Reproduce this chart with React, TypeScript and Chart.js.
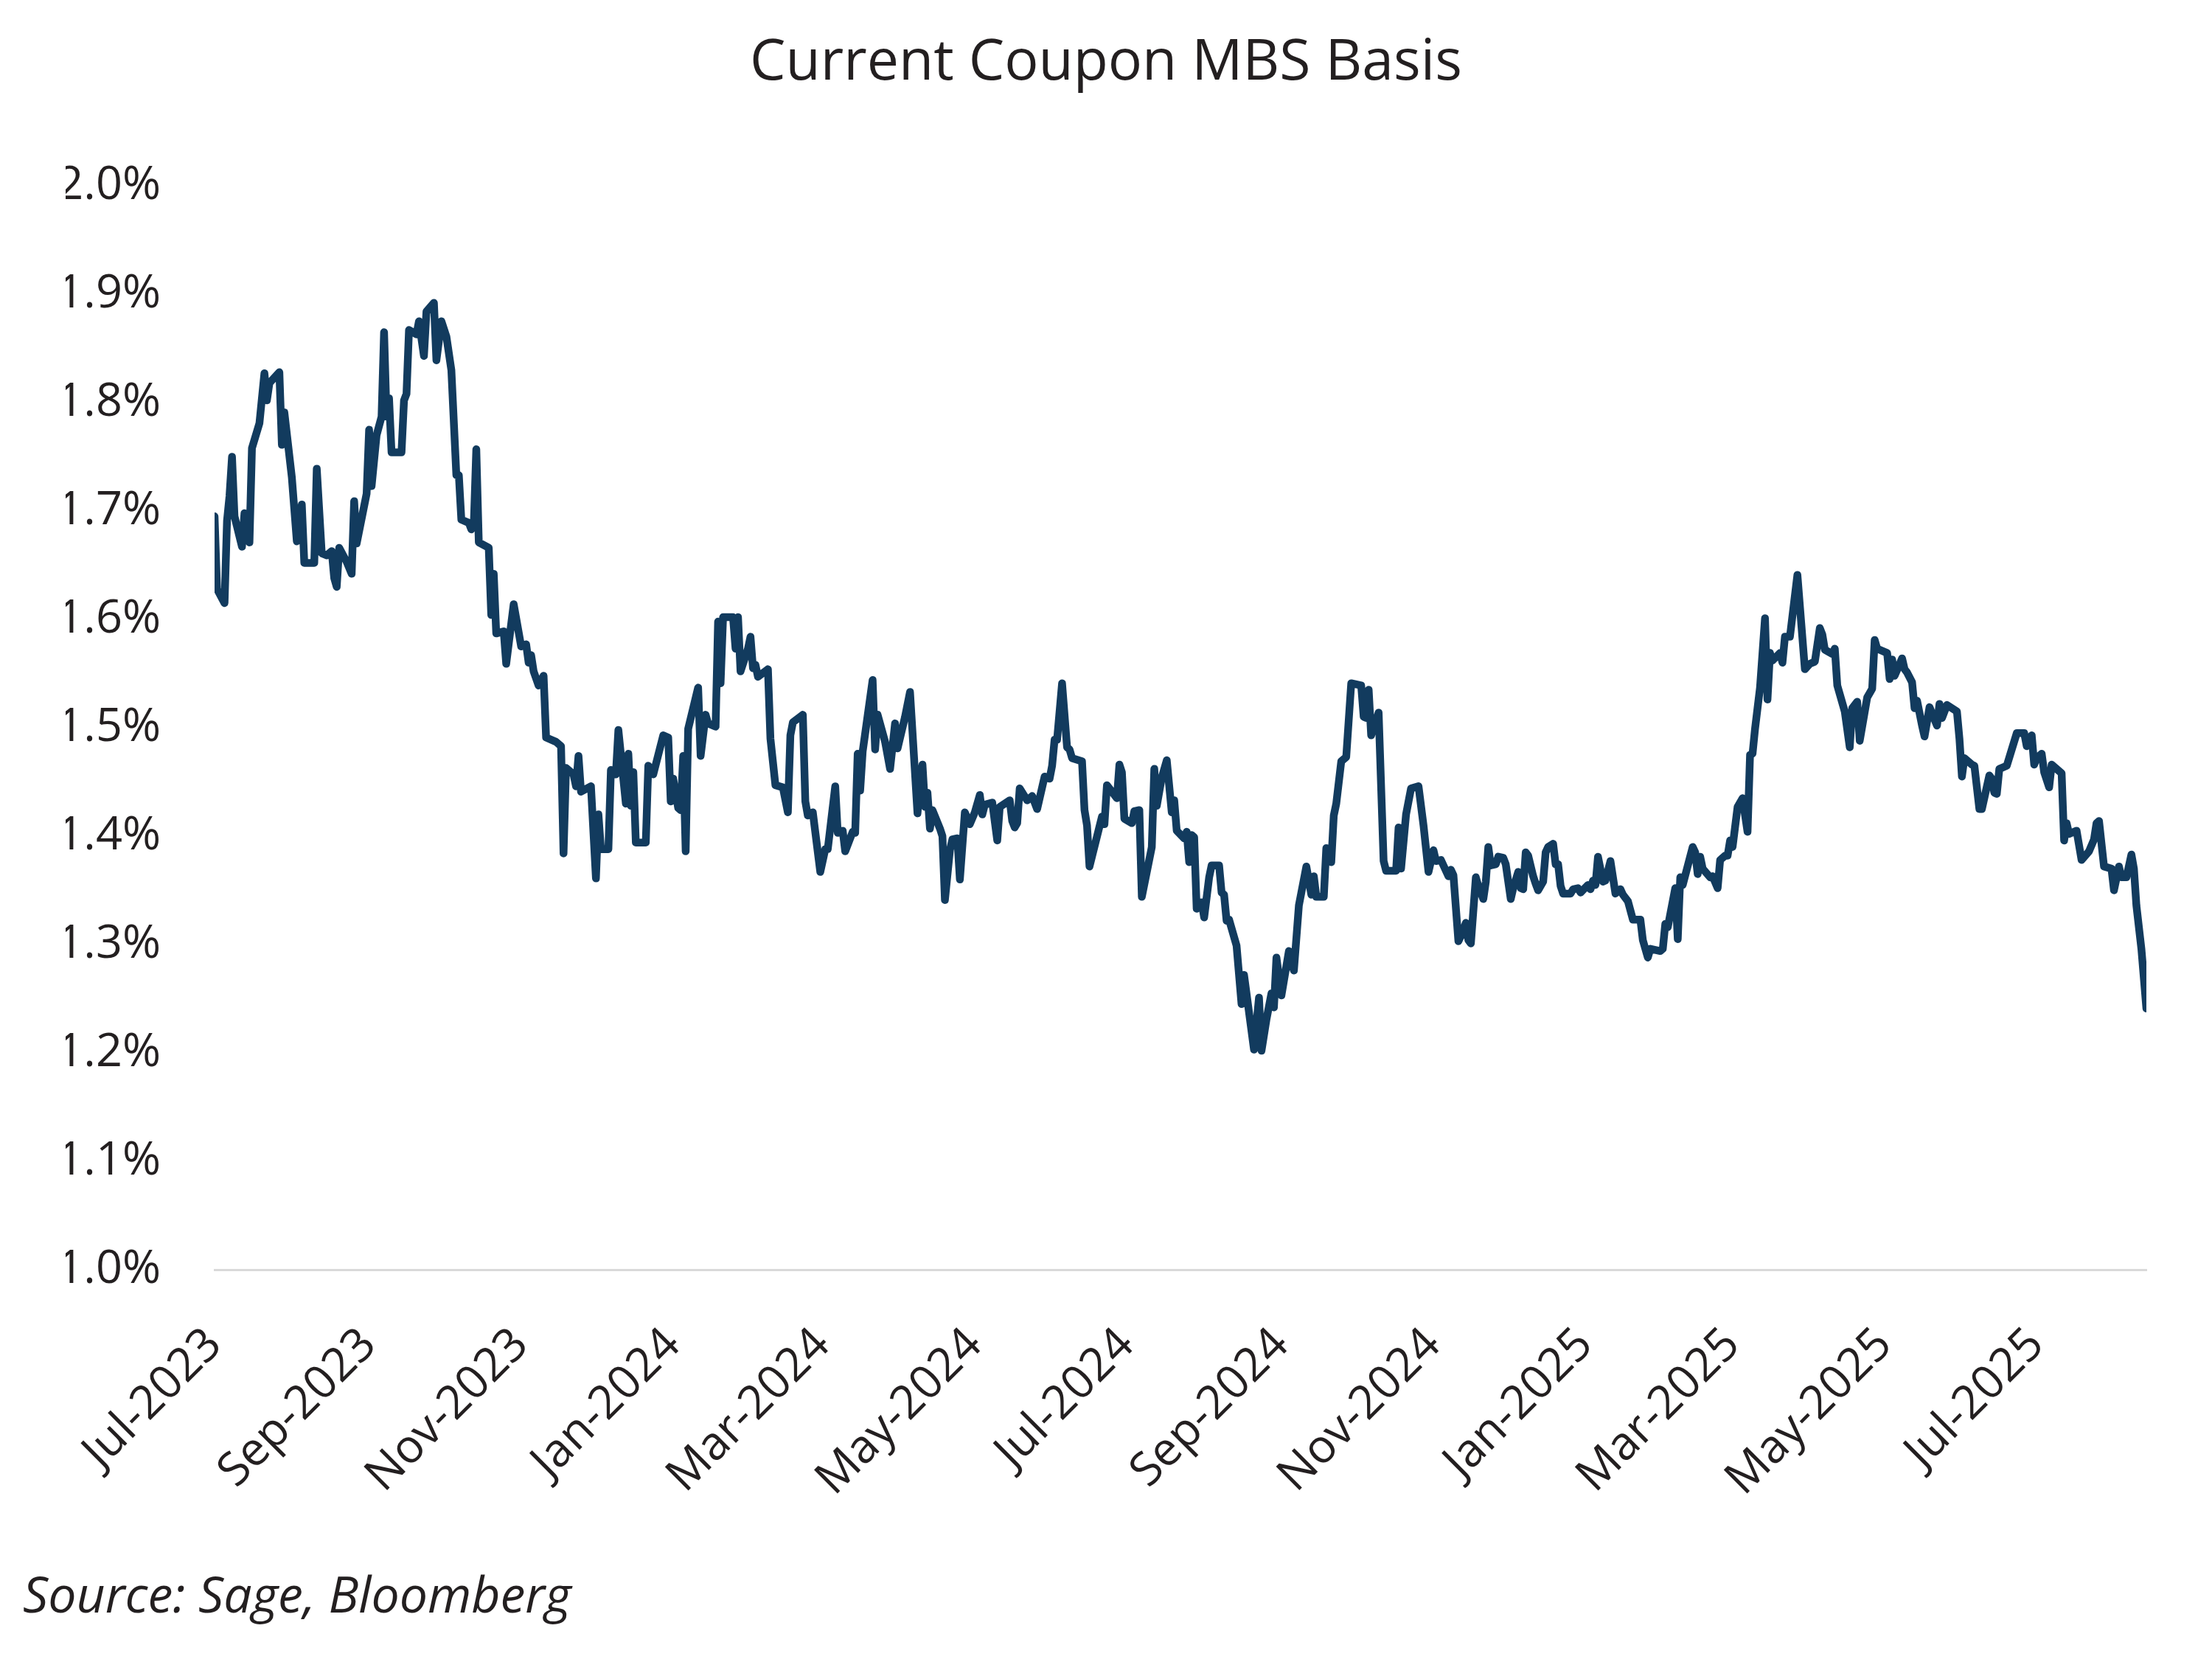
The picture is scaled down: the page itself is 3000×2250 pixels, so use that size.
import React, { useEffect, useRef } from 'react';
import { Chart, registerables } from 'chart.js';

Chart.register(...registerables);

const TITLE = 'Current Coupon MBS Basis';
const SOURCE = 'Source: Sage, Bloomberg';
const START_DATE = '2023-07-01';

// days since START_DATE
const dayOffsets = [
  0, 1, 4, 5, 6, 7, 8, 11, 12, 14, 15, 18, 20, 21, 22, 26, 27, 28, 31, 33, 35, 36, 40, 41, 43, 45, 47, 48, 49, 50,
  53, 55, 56, 57, 61, 62, 63, 65, 67, 68, 69, 70, 71, 75, 76, 77, 78, 81, 82, 84, 85, 88, 89, 91, 93, 95, 97, 98, 99, 102,
  103, 104, 105, 106, 110, 111, 112, 113, 116, 117, 120, 123, 125, 126, 127, 128, 130, 132, 133, 137, 139, 140, 141, 144, 145, 146, 147, 151, 153, 154,
  155, 158, 159, 161, 162, 165, 166, 167, 168, 169, 173, 174, 176, 180, 182, 183, 184, 186, 187, 188, 189, 190, 194, 195, 197, 198, 201, 202, 203, 204,
  208, 209, 210, 211, 214, 215, 216, 217, 218, 222, 223, 225, 228, 230, 231, 232, 236, 237, 238, 240, 243, 245, 246, 249, 250, 252, 253, 256, 257, 258,
  259, 260, 264, 265, 266, 269, 271, 273, 274, 277, 279, 282, 283, 284, 285, 286, 287, 288, 291, 292, 293, 295, 296, 298, 299, 301, 303, 305, 307, 308,
  309, 312, 314, 315, 319, 320, 321, 322, 323, 326, 328, 330, 333, 335, 336, 337, 338, 340, 342, 343, 344, 348, 349, 350, 351, 356, 357, 358, 362, 363,
  364, 365, 368, 369, 371, 372, 376, 377, 378, 380, 382, 384, 385, 386, 389, 390, 391, 392, 393, 394, 395, 396, 397, 399, 400, 403, 404, 405, 406, 407,
  410, 412, 413, 417, 419, 420, 422, 424, 425, 426, 428, 431, 433, 435, 438, 440, 441, 442, 445, 446, 448, 449, 450, 452, 454, 456, 460, 461, 462, 463,
  464, 467, 469, 470, 474, 475, 476, 478, 480, 483, 485, 487, 489, 490, 492, 495, 496, 497, 499, 500, 502, 503, 504, 506, 507, 509, 510, 511, 512, 514,
  515, 517, 518, 520, 521, 523, 524, 525, 526, 527, 529, 530, 531, 533, 534, 535, 537, 538, 539, 540, 541, 544, 545, 547, 548, 551, 552, 553, 554, 555,
  557, 558, 560, 562, 564, 565, 567, 569, 572, 573, 575, 576, 580, 581, 582, 583, 586, 587, 588, 589, 593, 594, 595, 596, 597, 600, 601, 603, 604, 606,
  607, 608, 609, 611, 613, 615, 616, 617, 618, 620, 622, 623, 624, 625, 628, 629, 630, 632, 635, 638, 640, 642, 644, 645, 646, 649, 650, 651, 654, 656,
  657, 659, 660, 663, 665, 666, 667, 671, 672, 673, 674, 677, 678, 679, 681, 682, 683, 685, 686, 688, 691, 692, 693, 695, 699, 700, 701, 702, 705, 706,
  708, 709, 712, 713, 714, 715, 716, 719, 721, 723, 726, 727, 728, 729, 730, 731, 733, 734, 736, 737, 741, 742, 743, 744, 747, 749, 752, 754, 755, 756,
  758, 761, 762, 764, 765, 767, 769, 770, 771, 773, 775,
];

// current coupon MBS basis, %
const basisPct = [
  1.695, 1.628, 1.615, 1.691, 1.714, 1.75, 1.695, 1.667, 1.698, 1.671, 1.758, 1.781, 1.827, 1.802, 1.818, 1.828, 1.761, 1.791, 1.731, 1.672, 1.706, 1.652, 1.652, 1.739, 1.661, 1.659, 1.663, 1.638, 1.63, 1.666,
  1.653, 1.642, 1.709, 1.67, 1.716, 1.775, 1.723, 1.77, 1.787, 1.865, 1.787, 1.804, 1.754, 1.754, 1.802, 1.808, 1.867, 1.863, 1.875, 1.843, 1.884, 1.892, 1.839, 1.875, 1.861, 1.83, 1.733, 1.733, 1.692, 1.689,
  1.683, 1.687, 1.757, 1.671, 1.666, 1.604, 1.642, 1.587, 1.589, 1.559, 1.614, 1.575, 1.577, 1.56, 1.567, 1.552, 1.539, 1.548, 1.491, 1.487, 1.483, 1.384, 1.463, 1.457, 1.446, 1.474, 1.441, 1.446, 1.361, 1.42,
  1.388, 1.388, 1.461, 1.457, 1.498, 1.43, 1.476, 1.428, 1.459, 1.394, 1.394, 1.465, 1.457, 1.493, 1.491, 1.432, 1.453, 1.426, 1.424, 1.474, 1.386, 1.499, 1.537, 1.474, 1.512, 1.504, 1.501, 1.598, 1.541, 1.602,
  1.602, 1.573, 1.602, 1.552, 1.573, 1.584, 1.555, 1.558, 1.547, 1.554, 1.49, 1.447, 1.445, 1.422, 1.493, 1.505, 1.512, 1.432, 1.419, 1.422, 1.367, 1.388, 1.388, 1.446, 1.403, 1.405, 1.386, 1.404, 1.403, 1.476,
  1.442, 1.478, 1.544, 1.48, 1.512, 1.487, 1.462, 1.504, 1.481, 1.51, 1.533, 1.421, 1.45, 1.466, 1.427, 1.44, 1.407, 1.424, 1.407, 1.4, 1.341, 1.387, 1.397, 1.398, 1.36, 1.422, 1.411, 1.422, 1.438, 1.42,
  1.429, 1.431, 1.396, 1.427, 1.433, 1.414, 1.408, 1.412, 1.444, 1.433, 1.437, 1.425, 1.455, 1.453, 1.465, 1.489, 1.489, 1.541, 1.482, 1.48, 1.472, 1.469, 1.424, 1.41, 1.372, 1.418, 1.411, 1.447, 1.435, 1.466,
  1.459, 1.416, 1.412, 1.423, 1.424, 1.344, 1.39, 1.462, 1.428, 1.454, 1.47, 1.422, 1.433, 1.405, 1.398, 1.404, 1.376, 1.401, 1.399, 1.333, 1.338, 1.339, 1.325, 1.362, 1.373, 1.373, 1.348, 1.346, 1.322, 1.323,
  1.299, 1.245, 1.272, 1.203, 1.251, 1.202, 1.231, 1.255, 1.242, 1.288, 1.253, 1.294, 1.276, 1.336, 1.372, 1.346, 1.363, 1.344, 1.344, 1.389, 1.376, 1.419, 1.43, 1.469, 1.473, 1.541, 1.539, 1.51, 1.509, 1.535,
  1.493, 1.514, 1.377, 1.368, 1.368, 1.408, 1.37, 1.42, 1.444, 1.446, 1.41, 1.367, 1.387, 1.377, 1.378, 1.363, 1.369, 1.364, 1.303, 1.308, 1.32, 1.304, 1.301, 1.362, 1.354, 1.342, 1.358, 1.39, 1.373, 1.374,
  1.381, 1.38, 1.374, 1.342, 1.352, 1.367, 1.352, 1.351, 1.385, 1.382, 1.363, 1.356, 1.35, 1.358, 1.385, 1.39, 1.393, 1.374, 1.374, 1.354, 1.347, 1.347, 1.351, 1.352, 1.348, 1.355, 1.351, 1.359, 1.355, 1.381,
  1.358, 1.359, 1.377, 1.347, 1.351, 1.346, 1.34, 1.323, 1.323, 1.304, 1.288, 1.296, 1.294, 1.296, 1.319, 1.316, 1.352, 1.305, 1.362, 1.355, 1.39, 1.385, 1.365, 1.381, 1.37, 1.362, 1.363, 1.352, 1.378, 1.382,
  1.382, 1.396, 1.39, 1.427, 1.435, 1.404, 1.475, 1.476, 1.499, 1.537, 1.601, 1.526, 1.569, 1.562, 1.569, 1.56, 1.584, 1.584, 1.641, 1.554, 1.559, 1.561, 1.592, 1.586, 1.572, 1.568, 1.573, 1.539, 1.515, 1.482,
  1.518, 1.524, 1.488, 1.528, 1.536, 1.581, 1.573, 1.569, 1.545, 1.563, 1.548, 1.564, 1.554, 1.551, 1.542, 1.518, 1.525, 1.502, 1.492, 1.519, 1.502, 1.522, 1.509, 1.521, 1.515, 1.49, 1.455, 1.472, 1.466, 1.465,
  1.425, 1.425, 1.456, 1.453, 1.44, 1.439, 1.462, 1.465, 1.48, 1.495, 1.495, 1.483, 1.485, 1.493, 1.466, 1.472, 1.476, 1.459, 1.445, 1.466, 1.458, 1.396, 1.412, 1.402, 1.405, 1.378, 1.386, 1.397, 1.412, 1.414,
  1.372, 1.37, 1.35, 1.372, 1.362, 1.362, 1.383, 1.37, 1.336, 1.296, 1.241,
];

const xTickLabels = [
  'Jul-2023', 'Sep-2023', 'Nov-2023', 'Jan-2024', 'Mar-2024', 'May-2024', 'Jul-2024',
  'Sep-2024', 'Nov-2024', 'Jan-2025', 'Mar-2025', 'May-2025', 'Jul-2025',
];
const X_END_DAY = 775;
const Y_MIN = 1.0;
const Y_MAX = 2.0;
const Y_STEP = 0.1;

const MONTHS: Record<string, number> = {
  Jan: 0, Feb: 1, Mar: 2, Apr: 3, May: 4, Jun: 5, Jul: 6, Aug: 7, Sep: 8, Oct: 9, Nov: 10, Dec: 11,
};
const startMs = Date.parse(START_DATE + 'T00:00:00Z');
const labelToDay = (label: string) => {
  const [m, y] = label.split('-');
  return Math.round((Date.UTC(Number(y), MONTHS[m], 1) - startMs) / 86400000);
};
const xTickDays = xTickLabels.map(labelToDay);

const FONT = '"Open Sans", "Noto Sans", sans-serif';
const TEXT = '#231F20';
const LINE = '#123B5E';

const sourcePlugin = {
  id: 'sourceNote',
  afterDraw(chart: any) {
    const ctx = chart.ctx;
    ctx.save();
    ctx.font = `italic 68px ${FONT}`;
    ctx.fillStyle = TEXT;
    ctx.textAlign = 'left';
    ctx.textBaseline = 'alphabetic';
    ctx.fillText(SOURCE, 31, 2187);
    ctx.restore();
  },
};

export default function App() {
  const canvasRef = useRef<HTMLCanvasElement | null>(null);

  useEffect(() => {
    const canvas = canvasRef.current;
    if (!canvas) return;
    const chart = new Chart(canvas, {
      type: 'line',
      data: {
        datasets: [
          {
            data: dayOffsets.map((d, i) => ({ x: d, y: basisPct[i] })),
            borderColor: LINE,
            backgroundColor: LINE,
            borderWidth: 10.5,
            pointRadius: 0,
            tension: 0,
            fill: false,
            borderJoinStyle: 'round',
            borderCapStyle: 'round',
          },
        ],
      },
      options: {
        responsive: false,
        animation: false,
        devicePixelRatio: 1,
        layout: { padding: { left: 89, right: 89, top: 0, bottom: 0 } },
        plugins: {
          legend: { display: false },
          tooltip: { enabled: false },
          title: {
            display: true,
            text: TITLE,
            color: TEXT,
            font: { family: FONT, size: 77, weight: 'normal', lineHeight: 1.2 },
            padding: { top: 40, bottom: 119.6 },
          },
        },
        scales: {
          x: {
            type: 'linear',
            min: 0,
            max: X_END_DAY,
            grid: { display: false, drawTicks: false },
            border: { display: true, color: '#D9D9D9', width: 3 },
            afterBuildTicks: (scale: any) => {
              scale.ticks = xTickDays.map((v) => ({ value: v }));
            },
            afterFit: (scale: any) => {
              scale.height = 528;
            },
            ticks: {
              autoSkip: false,
              maxRotation: 45,
              minRotation: 45,
              padding: 65,
              color: TEXT,
              font: { family: FONT, size: 63 },
              callback: (v: any) => {
                const i = xTickDays.indexOf(Number(v));
                return i >= 0 ? xTickLabels[i] : '';
              },
            },
          },
          y: {
            min: Y_MIN,
            max: Y_MAX,
            grid: { display: false, drawTicks: false },
            border: { display: false },
            afterFit: (scale: any) => {
              scale.width = 202;
            },
            ticks: {
              stepSize: Y_STEP,
              padding: 73,
              color: TEXT,
              font: { family: FONT, size: 63 },
              callback: (v: any) => Number(v).toFixed(1) + '%',
            },
          },
        },
      },
      plugins: [sourcePlugin],
    } as any);
    return () => chart.destroy();
  }, []);

  return (
    <div style={{ position: 'absolute', left: 0, top: 0, width: 3000, height: 2250, background: '#FFFFFF' }}>
      <canvas ref={canvasRef} width={3000} height={2250} style={{ width: 3000, height: 2250, display: 'block' }} />
    </div>
  );
}
